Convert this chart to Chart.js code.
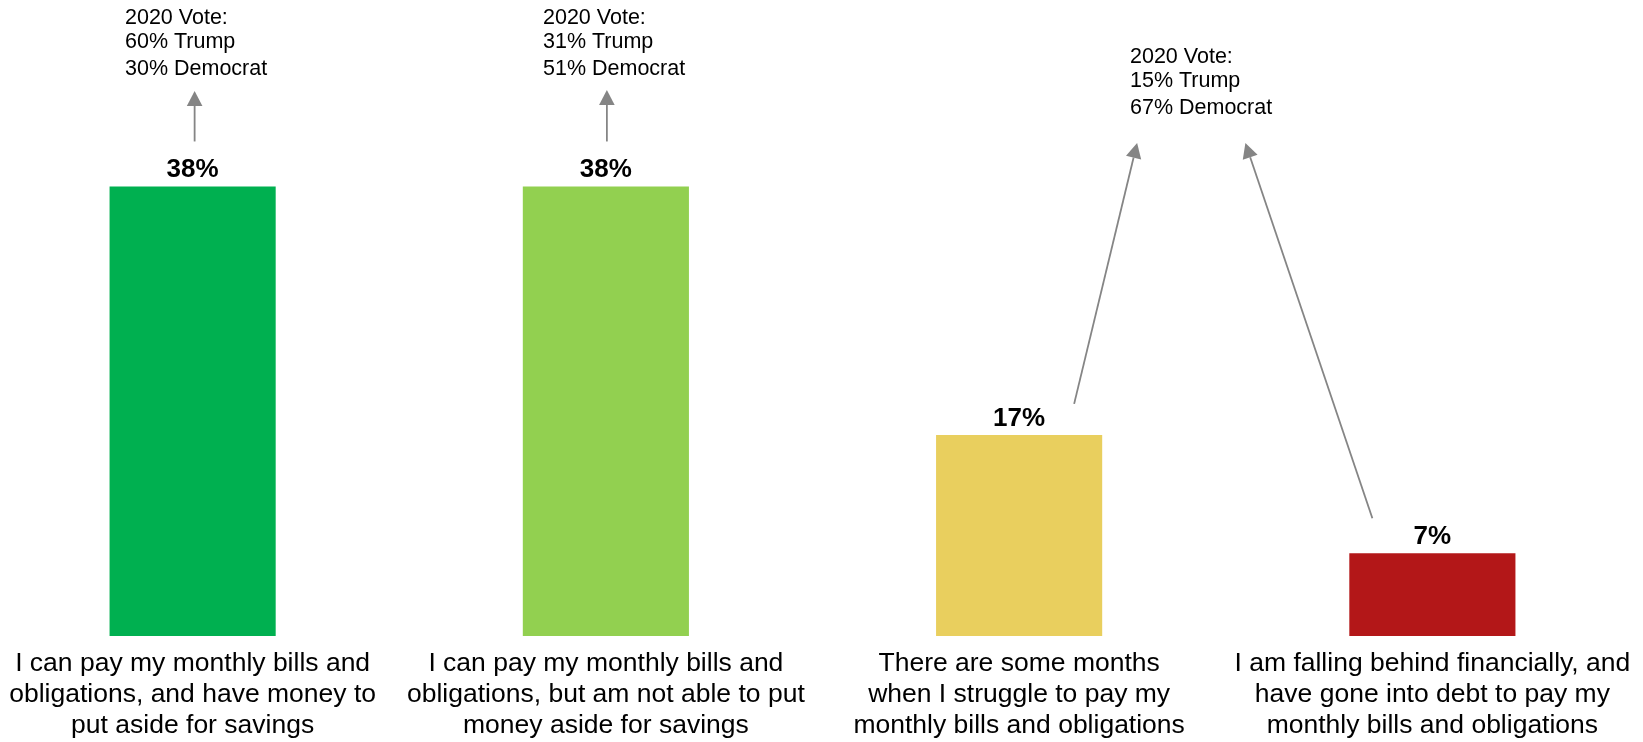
<!DOCTYPE html>
<html>
<head>
<meta charset="utf-8">
<script src="https://cdn.jsdelivr.net/npm/chart.js@4/dist/chart.umd.min.js"></script>
<style>
    html, body { margin: 0; padding: 0; background: #fff; overflow: hidden; }
    #wrap { position: absolute; left: -14px; top: 0; width: 1653px; height: 742px; }
</style>
</head>
<body>
<div id="wrap"><canvas id="financeChart"></canvas></div>
<script>
// Survey answers, one bar per answer
const categories = [
    ['I can pay my monthly bills and', 'obligations, and have money to', 'put aside for savings'],
    ['I can pay my monthly bills and', 'obligations, but am not able to put', 'money aside for savings'],
    ['There are some months', 'when I struggle to pay my', 'monthly bills and obligations'],
    ['I am falling behind financially, and', 'have gone into debt to pay my', 'monthly bills and obligations']
];
const shares = [38, 38, 17, 7];
const barColors = ['#00b050', '#92d050', '#e9cf5e', '#b31718'];

// 2020 vote breakdown callouts
const voteTrump = [60, 31, 15];
const voteDemocrat = [30, 51, 67];

// Callout placement (canvas coords): where the text sits and which bars the arrows start from
const noteLayout = [
    { x: 139, y: 24, arrows: [{ bar: 0, dx: 2, dy: -45, tipDx: 2, tipY: 91 }] },
    { x: 557, y: 24, arrows: [{ bar: 1, dx: 1, dy: -45, tipDx: 1, tipY: 90 }] },
    { x: 1144, y: 63, arrows: [
        { bar: 2, dx: 55, dy: -31, tipDx: 118, tipY: 143 },
        { bar: 3, dx: -60, dy: -35, tipDx: -187, tipY: 143 }
    ] }
];

function drawArrow(ctx, x0, y0, x1, y1) {
    const ang = Math.atan2(y1 - y0, x1 - x0);
    const head = 15, half = 7.8;
    const bx = x1 - head * Math.cos(ang), by = y1 - head * Math.sin(ang);
    ctx.beginPath();
    ctx.moveTo(x0, y0);
    ctx.lineTo(bx, by);
    ctx.stroke();
    ctx.beginPath();
    ctx.moveTo(x1, y1);
    ctx.lineTo(bx + half * Math.sin(ang), by - half * Math.cos(ang));
    ctx.lineTo(bx - half * Math.sin(ang), by + half * Math.cos(ang));
    ctx.closePath();
    ctx.fill();
}

const labelsPlugin = {
    id: 'labelsPlugin',
    afterDatasetsDraw(chart) {
        const ctx = chart.ctx;
        const bars = chart.getDatasetMeta(0).data;
        ctx.save();

        // value on top of each bar
        ctx.fillStyle = '#000';
        ctx.font = 'bold 26px "Liberation Sans", Arial, sans-serif';
        ctx.textAlign = 'center';
        ctx.textBaseline = 'alphabetic';
        bars.forEach((bar, i) => {
            ctx.fillText(shares[i] + '%', bar.x, bar.y - 9);
        });

        // vote callouts with arrows
        ctx.font = '21.5px "Liberation Sans", Arial, sans-serif';
        ctx.textAlign = 'left';
        ctx.strokeStyle = '#858585';
        ctx.lineWidth = 1.8;
        noteLayout.forEach((note, n) => {
            ctx.fillStyle = '#000';
            ctx.fillText('2020 Vote:', note.x, note.y);
            ctx.fillText(voteTrump[n] + '% Trump', note.x, note.y + 24);
            ctx.fillText(voteDemocrat[n] + '% Democrat', note.x, note.y + 51);
            ctx.fillStyle = '#858585';
            note.arrows.forEach(a => {
                const bar = bars[a.bar];
                drawArrow(ctx, bar.x + a.dx, bar.y + a.dy, bar.x + a.tipDx, a.tipY);
            });
        });
        ctx.restore();
    }
};

const ctx = document.getElementById('financeChart').getContext('2d');
new Chart(ctx, {
    type: 'bar',
    data: {
        labels: categories,
        datasets: [{
            data: shares,
            backgroundColor: barColors,
            borderWidth: 0,
            barPercentage: 0.402,
            categoryPercentage: 1
        }]
    },
    options: {
        responsive: true,
        maintainAspectRatio: false,
        animation: false,
        layout: { padding: { top: 44.5, bottom: 0, left: 0, right: 0 } },
        plugins: {
            legend: { display: false },
            tooltip: { enabled: false }
        },
        scales: {
            x: {
                grid: { display: false, drawTicks: false },
                border: { display: false },
                ticks: {
                    color: '#000',
                    padding: 12,
                    maxRotation: 0,
                    autoSkip: false,
                    font: { family: '"Liberation Sans", Arial, sans-serif', size: 26.5, lineHeight: 1.18 }
                },
                afterFit(scale) {
                    // fixed band for the three-line labels, and no side padding for wide labels
                    scale.height = 106;
                    scale.paddingLeft = 0;
                    scale.paddingRight = 0;
                }
            },
            y: {
                display: false,
                min: 0,
                max: 50
            }
        }
    },
    plugins: [labelsPlugin]
});
</script>
</body>
</html>
